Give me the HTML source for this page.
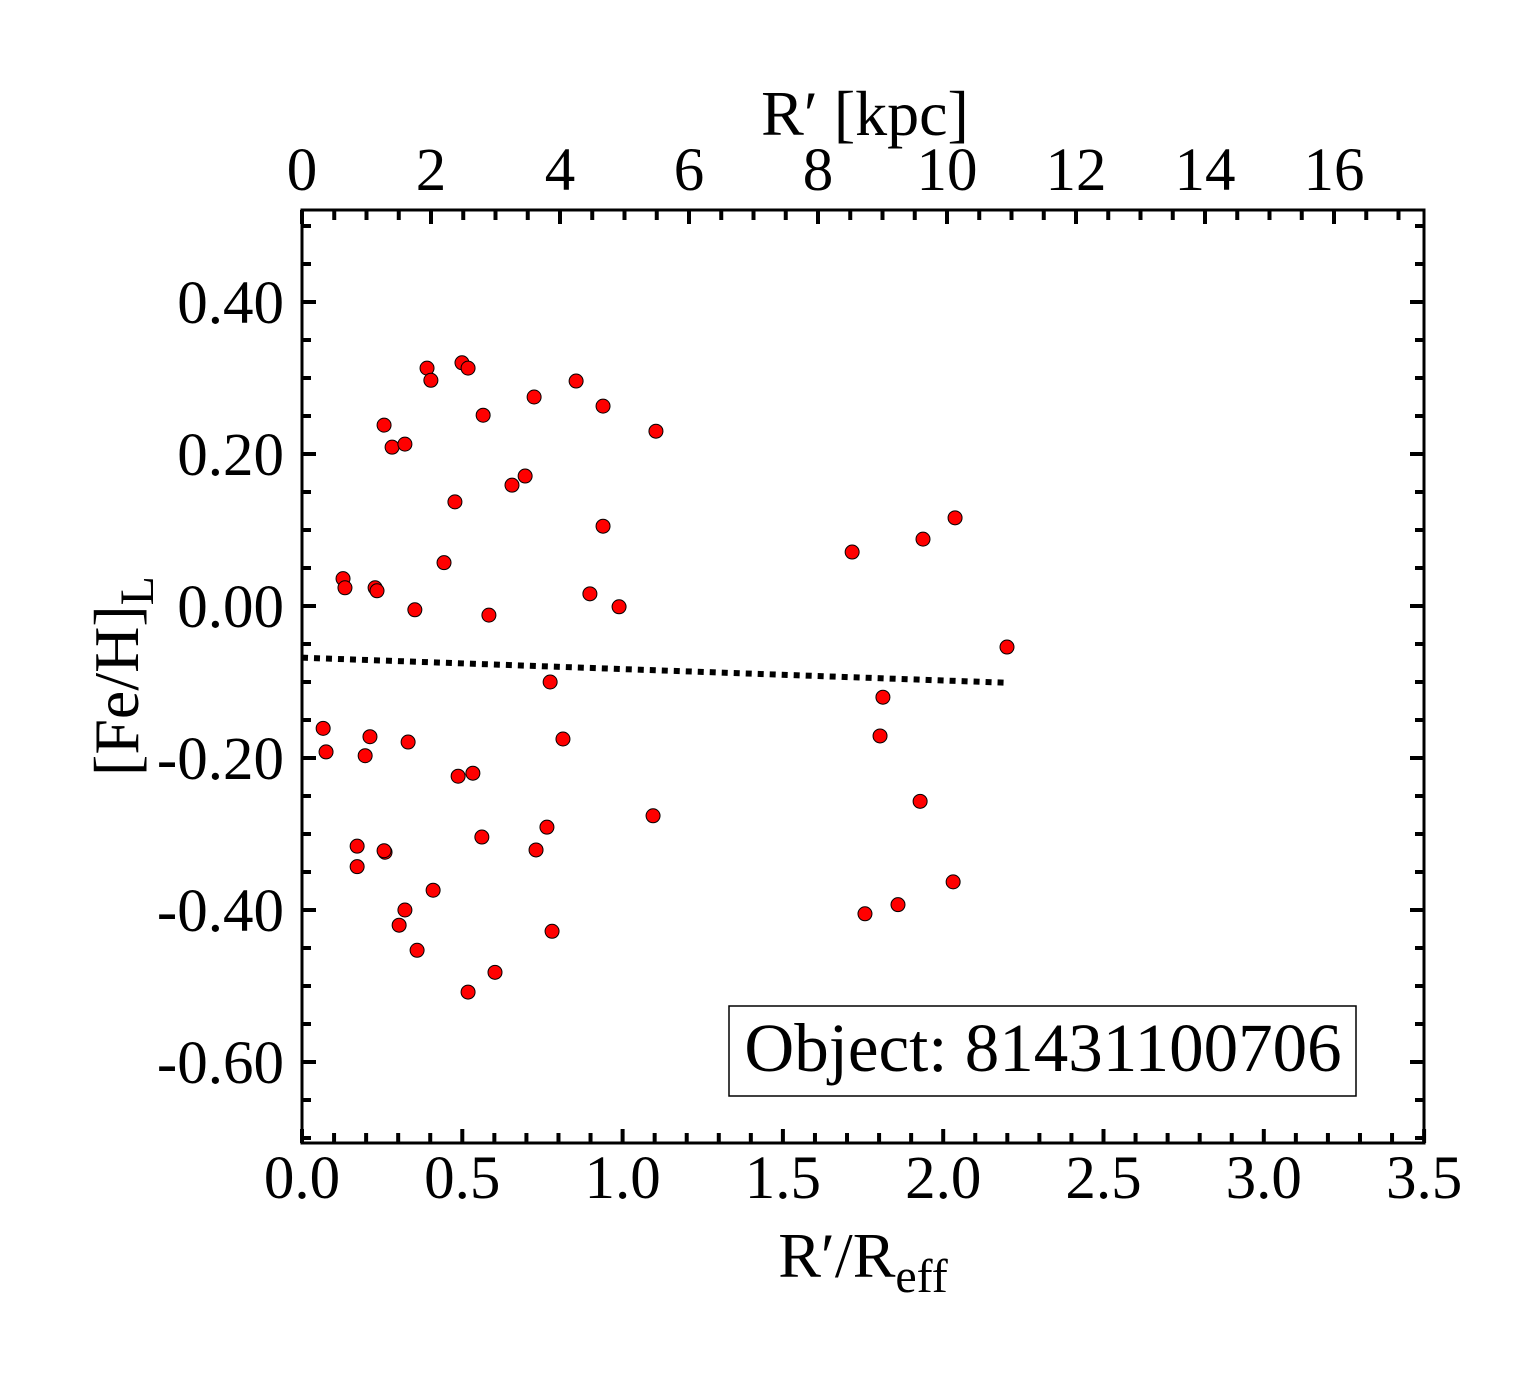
<!DOCTYPE html>
<html><head><meta charset="utf-8"><style>
html,body{margin:0;padding:0;background:#fff;}
svg text{font-family:"Liberation Serif",serif;fill:#000;}
</style></head><body>
<svg id="chart" width="1540" height="1375" xmlns="http://www.w3.org/2000/svg">
<g id="ticks"></g>
<g id="labels"></g>
<g id="fit"></g>
<g id="pts"></g>
<rect x="302" y="210" width="1122" height="933" fill="none" stroke="#000" stroke-width="3"/>
<rect x="729" y="1006" width="627" height="90" fill="#fff" stroke="#000" stroke-width="1.5"/>
<text x="1043" y="1071" font-size="69" text-anchor="middle">Object: 81431100706</text>
<text x="863" y="1277" font-size="64" text-anchor="middle">R′/R<tspan font-size="48" dy="15">eff</tspan></text>
<text x="865" y="135" font-size="64" text-anchor="middle">R′ [kpc]</text>
<text transform="translate(138,676) rotate(-90)" font-size="64" text-anchor="middle">[Fe/H]<tspan font-size="48" dy="15">L</tspan></text>
</svg>
<script>
const xs=[0.066,0.075,0.128,0.134,0.172,0.172,0.197,0.212,0.228,0.234,0.256,0.259,0.256,0.281,0.303,0.321,0.321,0.331,0.352,0.359,0.390,0.402,0.409,0.443,0.477,0.487,0.499,0.518,0.518,0.533,0.561,0.565,0.583,0.602,0.655,0.696,0.724,0.730,0.764,0.774,0.780,0.814,0.855,0.898,0.939,0.939,0.989,1.095,1.104,1.716,1.756,1.803,1.812,1.859,1.928,1.937,2.031,2.037,2.199];
const ys=[-0.161,-0.192,0.036,0.024,-0.316,-0.343,-0.197,-0.172,0.024,0.020,0.238,-0.324,-0.322,0.209,-0.420,0.213,-0.400,-0.179,-0.005,-0.453,0.313,0.297,-0.374,0.057,0.137,-0.224,0.320,0.313,-0.508,-0.220,-0.304,0.251,-0.012,-0.482,0.159,0.171,0.275,-0.321,-0.291,-0.100,-0.428,-0.175,0.296,0.016,0.263,0.105,-0.001,-0.276,0.230,0.071,-0.405,-0.171,-0.120,-0.393,-0.257,0.088,-0.363,0.116,-0.054];
const fitX=[0,2.2];
const fitY=[-0.068,-0.101];
const xTickLabels=["0.0","0.5","1.0","1.5","2.0","2.5","3.0","3.5"];
const yTickLabels=["0.40","0.20","0.00","-0.20","-0.40","-0.60"];
const topTickLabels=["0","2","4","6","8","10","12","14","16"];
const NS="http://www.w3.org/2000/svg";
const X=v=>302+v*320.6, Y=v=>606-v*760, T=k=>302+k*64.5;
function mk(tag,attrs,parent){const e=document.createElementNS(NS,tag);for(const k in attrs)e.setAttribute(k,attrs[k]);document.getElementById(parent).appendChild(e);return e;}
for(let i=0;i<=35;i++){const x=X(i/10),L=i%5===0?14:10;
 const t=mk('line',{x1:x,x2:x,y1:1143,y2:1143-L,stroke:'#000','stroke-width':4},'ticks');
 
 }
for(let i=0;i<=35;i++){const k=i/2,x=T(k);if(x>1424)break;const L=i%4===0?14:10;
 const t=mk('line',{x1:x,x2:x,y1:210,y2:210+L,stroke:'#000','stroke-width':4},'ticks');
 
 }
for(let i=-14;i<=10;i++){const v=i*0.05,y=Y(v);if(y<210||y>1143)continue;const L=i%4===0?14:9;
 const a=mk('line',{x1:302,x2:302+L,y1:y,y2:y,stroke:'#000','stroke-width':4},'ticks');
 
 
 const b=mk('line',{x1:1424,x2:1424-L,y1:y,y2:y,stroke:'#000','stroke-width':4},'ticks');
 
 }
xTickLabels.forEach(s=>{const t=mk('text',{x:X(parseFloat(s)),y:1198,'font-size':61,'text-anchor':'middle'},'labels');t.textContent=s;
 
 });
yTickLabels.forEach(s=>{const t=mk('text',{x:284,y:Y(parseFloat(s))+21,'font-size':61,'text-anchor':'end'},'labels');t.textContent=s;
 
 });
topTickLabels.forEach(s=>{const t=mk('text',{x:T(parseFloat(s)),y:190,'font-size':61,'text-anchor':'middle'},'labels');t.textContent=s;
 
 });
const fl=mk('line',{x1:X(fitX[0]),y1:Y(fitY[0]),x2:X(fitX[1]),y2:Y(fitY[1]),stroke:'#000','stroke-width':6,'stroke-dasharray':'6 6'},'fit');


xs.forEach((x,i)=>{const c=mk('circle',{cx:X(x),cy:Y(ys[i]),r:7,fill:'#f00',stroke:'#000','stroke-width':1},'pts');
 
 });
</script>
</body></html>
